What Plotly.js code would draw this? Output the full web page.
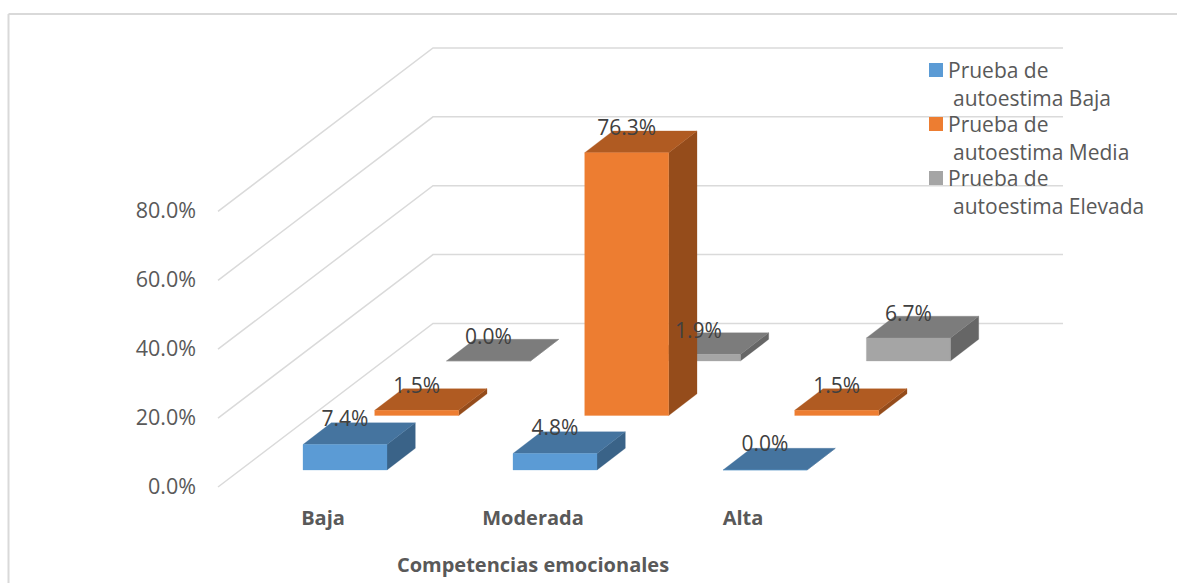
<!DOCTYPE html>
<html>
<head>
<meta charset="utf-8">
<script src="https://cdn.plot.ly/plotly-3.0.1.min.js"></script>
<style>html,body{margin:0;padding:0;background:#fff}#chart{width:1177px;height:583px}</style>
</head>
<body>
<div id="chart"></div>
<script>
// Share of students per emotional-competence level and self-esteem result
const categories = ['Baja', 'Moderada', 'Alta'];
const seriesBaja = [7.4, 4.8, 0.0];
const seriesMedia = [1.5, 76.3, 1.5];
const seriesElevada = [0.0, 1.9, 6.7];
const gridValues = [0, 20, 40, 60, 80];
const xAxisTitle = 'Competencias emocionales';
const legendLines = [
  ['Prueba de', 'autoestima Baja'],
  ['Prueba de', 'autoestima Media'],
  ['Prueba de', 'autoestima Elevada']
];

const W = 1177, H = 583;
const FONT = '"Open Sans", sans-serif';

// Axis scales: one x unit is one category, one y unit is one percentage point
const pxPerCat = 210, pxPerPct = 3.445;
const xZeroPx = 323, yZeroPx = 486;
const dx = px => px / pxPerCat;
const dy = px => px / pxPerPct;

// Oblique projection of the floor: each depth row moves the bar back and to the right
const rowShiftX = dx(71.7), rowShiftY = dy(54.5);
const barWidth = dx(84), barLeft = dx(-20);
const depthX = dx(28.3), depthY = dy(21.7);
const floorFrontY = dy(-1), floorGap = dy(17);
const wallDepthX = dx(215), wallDepthY = dy(163.5);
const wallFrontX = dx(218 - xZeroPx), wallEndX = dx(1063 - xZeroPx);

function polygons(values, row, face) {
  const xs = [], ys = [];
  values.forEach((v, c) => {
    const l = c + barLeft + row * rowShiftX, r = l + barWidth;
    const b = floorFrontY + floorGap + row * rowShiftY, t = b + v;
    let pts;
    if (face === 'front') pts = [[l, b], [r, b], [r, t], [l, t]];
    if (face === 'top') pts = [[l, t], [r, t], [r + depthX, t + depthY], [l + depthX, t + depthY]];
    if (face === 'side') pts = [[r, b], [r + depthX, b + depthY], [r + depthX, t + depthY], [r, t]];
    pts.concat([pts[0]]).forEach(p => { xs.push(p[0]); ys.push(p[1]); });
    xs.push(null); ys.push(null);
  });
  return { x: xs, y: ys };
}

function faceTrace(values, row, face, color) {
  const p = polygons(values, row, face);
  return {
    type: 'scatter', mode: 'lines', x: p.x, y: p.y, fill: 'toself', fillcolor: color,
    line: { color: color, width: 0.3 }, hoverinfo: 'skip', showlegend: false
  };
}

// Side wall diagonals joined to the horizontal back wall lines
const gridX = [], gridY = [];
gridValues.forEach(g => {
  const front = g + floorFrontY;
  gridX.push(wallFrontX, wallFrontX + wallDepthX, wallEndX, null);
  gridY.push(front, front + wallDepthY, front + wallDepthY, null);
});

const rows = [
  { values: seriesElevada, row: 2, front: '#A5A5A5', top: '#7C7C7C', side: '#666666' },
  { values: seriesMedia, row: 1, front: '#ED7D31', top: '#B05B22', side: '#954C1B' },
  { values: seriesBaja, row: 0, front: '#5B9BD5', top: '#45749F', side: '#3A6388' }
];

const traces = [{
  type: 'scatter', mode: 'lines', x: gridX, y: gridY,
  line: { color: '#DADADA', width: 1.5 }, hoverinfo: 'skip', showlegend: false
}];
rows.forEach(s => {
  traces.push(faceTrace(s.values, s.row, 'side', s.side));
  traces.push(faceTrace(s.values, s.row, 'top', s.top));
  traces.push(faceTrace(s.values, s.row, 'front', s.front));
});

// Value labels sit just above the front edge of each bar top
const labelX = [], labelY = [], labelText = [];
rows.forEach(s => s.values.forEach((v, c) => {
  labelX.push(c + barLeft + s.row * rowShiftX + barWidth / 2);
  labelY.push(floorFrontY + floorGap + s.row * rowShiftY + v + dy(24 - s.row));
  labelText.push(v.toFixed(1) + '%');
}));
traces.push({
  type: 'scatter', mode: 'text', x: labelX, y: labelY, text: labelText,
  textposition: 'middle center', textfont: { family: FONT, size: 21, color: '#404040' },
  hoverinfo: 'skip', showlegend: false
});

const paperX = px => px / W;
const paperY = px => 1 - px / H;

// Outer chart frame and legend keys
const shapes = [{
  type: 'line', xref: 'paper', yref: 'paper', x0: paperX(8.5), x1: paperX(8.5), y0: 0, y1: paperY(14),
  line: { color: '#D9D9D9', width: 2 }
}, {
  type: 'line', xref: 'paper', yref: 'paper', x0: paperX(8.5), x1: 1, y0: paperY(14), y1: paperY(14),
  line: { color: '#D9D9D9', width: 2 }
}];
const keyColors = ['#5B9BD5', '#ED7D31', '#A5A5A5'];
const annotations = [];
keyColors.forEach((color, i) => {
  const top = 63 + i * 54;
  shapes.push({
    type: 'rect', xref: 'paper', yref: 'paper', x0: paperX(929), x1: paperX(943),
    y0: paperY(top + 14), y1: paperY(top), fillcolor: color, line: { width: 0 }
  });
  legendLines[i].forEach((text, j) => {
    annotations.push({
      xref: 'paper', yref: 'paper', x: paperX(j === 0 ? 947 : 952), y: paperY(top + 7 + j * 28),
      xanchor: 'left', yanchor: 'middle', showarrow: false, text: text,
      font: { family: FONT, size: 21, color: '#595959' }, borderpad: 0
    });
  });
});

// The x domain stops at 1066 px so the axis title centres under the middle category
const xDomainEndPx = 1066;

const layout = {
  width: W, height: H, margin: { l: 0, r: 0, t: 0, b: 0, pad: 0 },
  paper_bgcolor: '#fff', plot_bgcolor: 'rgba(0,0,0,0)', showlegend: false, hovermode: false,
  shapes: shapes, annotations: annotations,
  xaxis: {
    domain: [0, xDomainEndPx / W],
    range: [-xZeroPx / pxPerCat, (xDomainEndPx - xZeroPx) / pxPerCat],
    tickmode: 'array', tickvals: categories.map((_, i) => i), ticktext: categories,
    tickfont: { family: FONT, size: 20, color: '#595959', weight: 700 },
    showgrid: false, zeroline: false, showline: false, ticks: '',
    anchor: 'free', position: paperY(504),
    title: { text: xAxisTitle, standoff: 27, font: { family: FONT, size: 20, color: '#595959', weight: 700 } }
  },
  yaxis: {
    range: [-(H - yZeroPx) / pxPerPct, yZeroPx / pxPerPct],
    tickmode: 'array', tickvals: gridValues, ticktext: gridValues.map(v => v.toFixed(1) + '%'),
    tickfont: { family: FONT, size: 21.5, color: '#595959' },
    showgrid: false, zeroline: false, showline: false, ticks: '',
    anchor: 'free', position: paperX(196)
  }
};

Plotly.newPlot('chart', traces, layout, { displayModeBar: false, staticPlot: true });
</script>
</body>
</html>
